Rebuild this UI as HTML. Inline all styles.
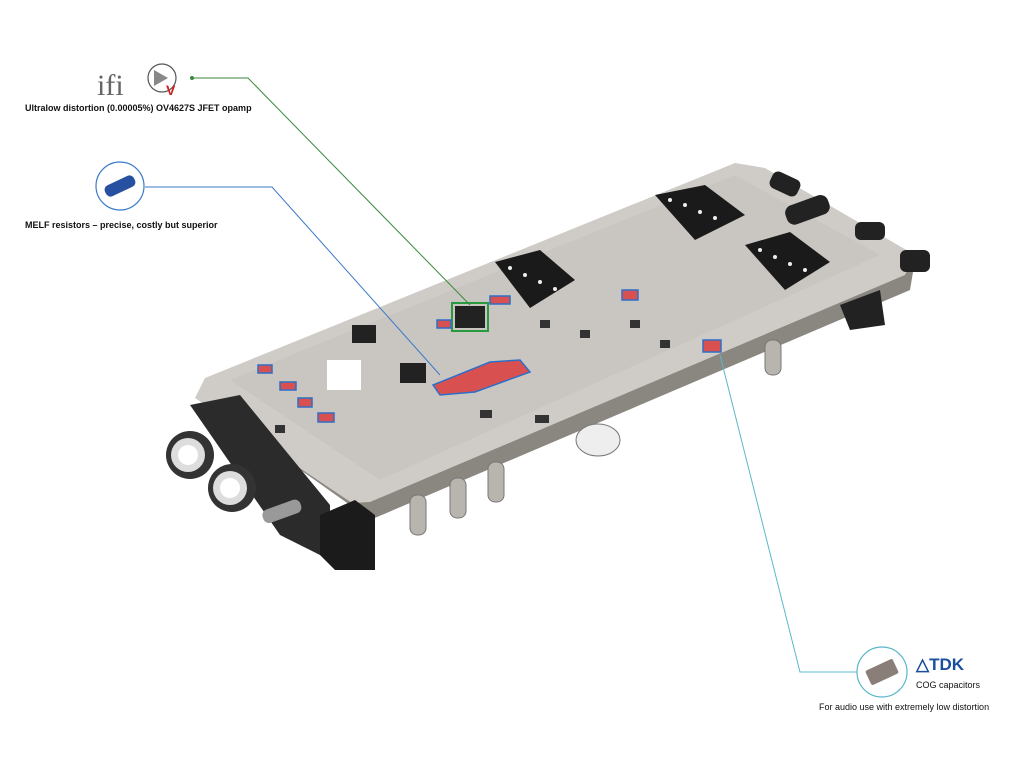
<!DOCTYPE html>
<html><head><style>
body{margin:0;background:#fff;width:1024px;height:768px;overflow:hidden;font-family:"Liberation Sans",sans-serif}
svg{position:absolute;left:0;top:0}
.t{font-family:"Liberation Sans",sans-serif;font-size:9px;fill:#111}
</style></head><body>
<svg width="1024" height="768" viewBox="0 0 1024 768">
<polygon points="195,395 350,505 370,520 910,290 915,260 905,272 370,500 355,500" fill="#8a8680"/>
<polygon points="205,378 735,163 765,168 915,255 905,275 370,502 352,503 195,398" fill="#cfccc8"/>
<polygon points="230,380 735,175 880,255 380,480" fill="#c9c6c2"/>
<g fill="#222"><rect x="770" y="175" width="30" height="18" rx="6" transform="rotate(25 785 184)"/>
<rect x="785" y="200" width="45" height="20" rx="8" transform="rotate(-20 807 210)"/>
<rect x="855" y="222" width="30" height="18" rx="6"/><rect x="900" y="250" width="30" height="22" rx="6"/>
<polygon points="840,305 880,290 885,325 850,330"/></g>
<g fill="#1a1a1a">
<polygon points="655,195 705,185 745,215 695,240"/><polygon points="745,245 790,232 830,262 785,290"/>
<polygon points="495,262 540,250 575,280 530,308"/></g>
<g fill="#eee"><circle cx="670" cy="200" r="2"/><circle cx="685" cy="205" r="2"/><circle cx="700" cy="212" r="2"/><circle cx="715" cy="218" r="2"/>
<circle cx="760" cy="250" r="2"/><circle cx="775" cy="257" r="2"/><circle cx="790" cy="264" r="2"/><circle cx="805" cy="270" r="2"/>
<circle cx="510" cy="268" r="2"/><circle cx="525" cy="275" r="2"/><circle cx="540" cy="282" r="2"/><circle cx="555" cy="289" r="2"/></g>
<g fill="#222"><rect x="352" y="325" width="24" height="18"/><rect x="400" y="363" width="26" height="20"/><rect x="455" y="306" width="30" height="22"/></g>
<rect x="452" y="303" width="36" height="28" fill="none" stroke="#2a9a40" stroke-width="2"/>
<rect x="327" y="360" width="34" height="30" fill="#fff"/>
<g fill="#d85050" stroke="#2d6fc8" stroke-width="1.5">
<polygon points="433,385 490,362 520,360 530,372 475,392 440,395"/>
<rect x="437" y="320" width="14" height="8"/><rect x="490" y="296" width="20" height="8"/><rect x="622" y="290" width="16" height="10"/><rect x="703" y="340" width="18" height="12"/>
<rect x="258" y="365" width="14" height="8"/><rect x="280" y="382" width="16" height="8"/><rect x="298" y="398" width="14" height="9"/><rect x="318" y="413" width="16" height="9"/></g>
<g fill="#333"><rect x="540" y="320" width="10" height="8"/><rect x="580" y="330" width="10" height="8"/><rect x="630" y="320" width="10" height="8"/><rect x="660" y="340" width="10" height="8"/><rect x="480" y="410" width="12" height="8"/><rect x="535" y="415" width="14" height="8"/><rect x="275" y="425" width="10" height="8"/></g>
<g fill="#b8b4ae" stroke="#777"><rect x="410" y="495" width="16" height="40" rx="7"/><rect x="450" y="478" width="16" height="40" rx="7"/><rect x="488" y="462" width="16" height="40" rx="7"/><rect x="765" y="340" width="16" height="35" rx="7"/>
<ellipse cx="598" cy="440" rx="22" ry="16" fill="#eee"/></g>
<polygon points="190,405 240,395 330,505 330,560 280,535" fill="#2b2b2b"/>
<circle cx="190" cy="455" r="24" fill="#333"/><circle cx="188" cy="455" r="17" fill="#ddd"/><circle cx="188" cy="455" r="10" fill="#fff"/>
<circle cx="232" cy="488" r="24" fill="#333"/><circle cx="230" cy="488" r="17" fill="#ddd"/><circle cx="230" cy="488" r="10" fill="#fff"/>
<rect x="262" y="505" width="40" height="14" rx="6" fill="#999" transform="rotate(-20 280 512)"/>
<polygon points="320,515 355,500 375,515 375,570 335,570 320,555" fill="#1b1b1b"/>
<polyline points="192,78 248,78 470,305" fill="none" stroke="#3a8a3a" stroke-width="1"/>
<circle cx="192" cy="78" r="2" fill="#3a8a3a"/>
<polyline points="145,187 272,187 440,375" fill="none" stroke="#3a7ac8" stroke-width="1"/>
<polyline points="720,355 800,672 858,672" fill="none" stroke="#5ab8c8" stroke-width="1"/>
<text x="97" y="95" font-family="Liberation Serif" font-size="30" fill="#666">ifi</text>
<circle cx="162" cy="78" r="14" fill="none" stroke="#555" stroke-width="1.2"/>
<polygon points="154,70 154,86 168,78" fill="#888"/>
<text x="166" y="95" font-size="14" font-weight="bold" fill="#d02020">V</text>
<text class="t" x="25" y="111" font-weight="bold">Ultralow distortion (0.00005%) OV4627S JFET opamp</text>
<circle cx="120" cy="186" r="24" fill="#fff" stroke="#3a7ac8" stroke-width="1.2"/>
<rect x="104" y="180" width="32" height="12" rx="5" fill="#2850a0" transform="rotate(-25 120 186)"/>
<text class="t" x="25" y="228" font-weight="bold">MELF resistors – precise, costly but superior</text>
<circle cx="882" cy="672" r="25" fill="#fff" stroke="#5ab8c8" stroke-width="1.2"/>
<rect x="867" y="664" width="30" height="16" rx="2" fill="#8a7f78" transform="rotate(-25 882 672)"/>
<text x="916" y="670" font-size="17" font-weight="bold" fill="#1a4fa0">&#9651;TDK</text>
<text class="t" x="916" y="688">COG capacitors</text>
<text class="t" x="819" y="710">For audio use with extremely low distortion</text>
</svg>
</body></html>
